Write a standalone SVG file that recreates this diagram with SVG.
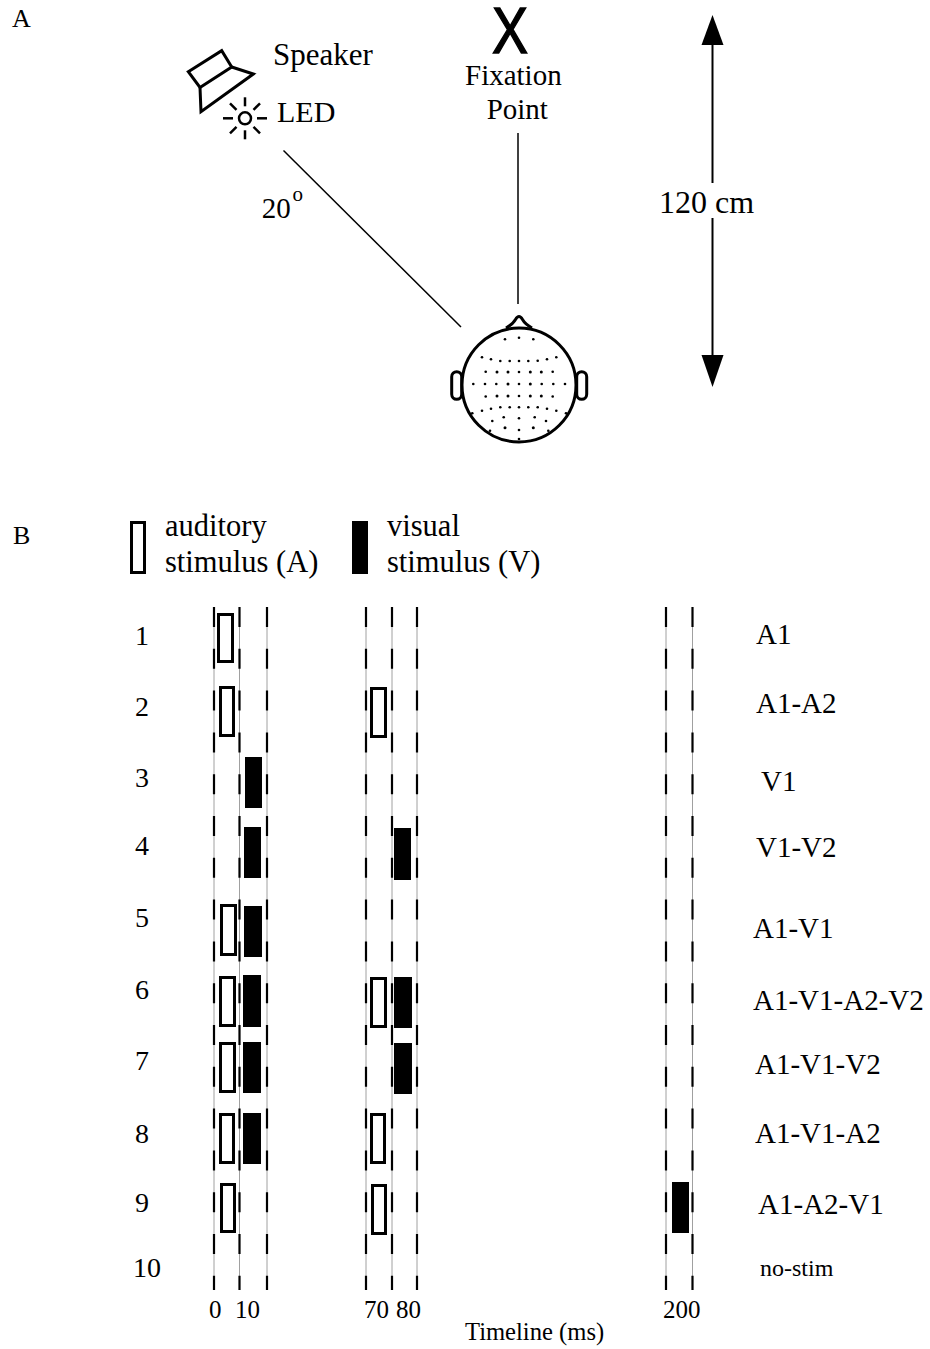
<svg xmlns="http://www.w3.org/2000/svg" width="930" height="1349" viewBox="0 0 930 1349">
  <style>
    .t { font-family: "Liberation Serif", "Times New Roman", serif; fill: #000; }
    .ink { fill: none; stroke: #000; stroke-width: 3; }
    .thin { fill: none; stroke: #000; stroke-width: 1.5; }
    .dot { fill: #000; }
    .aud { fill: #fff; stroke: #000; stroke-width: 3; }
    .vis { fill: #000; }
    .guide { stroke: #a0a0a0; stroke-width: 1; }
    .dash { stroke: #000; stroke-width: 2.2; stroke-dasharray: 20 21.8; }
  </style>

  <rect width="930" height="1349" fill="#fff"/>

  <!-- Panel A: setup -->
  <text class="t" x="12" y="27" font-size="26">A</text>

  <g id="speaker">
    <polygon class="ink" points="188.3,71.7 221.7,50.7 231.7,67 200,87.5"/>
    <polyline class="ink" points="200,87.5 201,111.7 253.3,74 231.7,67"/>
    <text class="t" x="273" y="65" font-size="31">Speaker</text>
  </g>

  <g id="led">
    <circle cx="245" cy="118.3" r="6" fill="none" stroke="#000" stroke-width="2.5"/>
    <g stroke="#000" stroke-width="2.5" stroke-linecap="butt">
      <line x1="233" y1="118.3" x2="223" y2="118.3"/>
      <line x1="257" y1="118.3" x2="267" y2="118.3"/>
      <line x1="245" y1="106.3" x2="245" y2="97.3"/>
      <line x1="245" y1="130.3" x2="245" y2="139.3"/>
      <line x1="236.5" y1="109.8" x2="230" y2="103.3"/>
      <line x1="253.5" y1="109.8" x2="260" y2="103.3"/>
      <line x1="236.5" y1="126.8" x2="230" y2="133.3"/>
      <line x1="253.5" y1="126.8" x2="260" y2="133.3"/>
    </g>
    <text class="t" x="277" y="122" font-size="30">LED</text>
  </g>

  <g id="fixation">
    <text x="492" y="53.3" font-family="Liberation Sans, Arial, sans-serif" font-size="64" stroke="#000" stroke-width="1.4" textLength="36" lengthAdjust="spacingAndGlyphs">X</text>
    <text class="t" x="465" y="85" font-size="29">Fixation</text>
    <text class="t" x="486.7" y="118.5" font-size="29">Point</text>
  </g>

  <g id="angle-label">
    <text class="t" x="261.7" y="218.3" font-size="29">20</text>
    <text class="t" x="292.5" y="201" font-size="21">o</text>
  </g>

  <g id="distance">
    <line x1="712.5" y1="44" x2="712.5" y2="183" stroke="#000" stroke-width="2"/>
    <line x1="712.5" y1="218" x2="712.5" y2="356" stroke="#000" stroke-width="2"/>
    <polygon points="712.5,15 701.5,45 723.5,45" fill="#000"/>
    <polygon points="712.5,387 701.5,355 723.5,355" fill="#000"/>
    <text class="t" x="659" y="213.3" font-size="32">120 cm</text>
  </g>

  <g id="connectors">
    <line class="thin" x1="283.5" y1="150.5" x2="461" y2="327"/>
    <line class="thin" x1="518" y1="133" x2="518" y2="304"/>
  </g>

  <g id="head">
    <rect x="451.7" y="371.7" width="10" height="27.6" rx="5" class="ink" style="fill:#fff"/>
    <rect x="576.7" y="371.7" width="10" height="27.6" rx="5" class="ink" style="fill:#fff"/>
    <path class="ink" d="M506,328 Q513,324 515.5,319.5 Q519,313.5 522.5,319.5 Q525,324 532,328" style="fill:#fff"/>
    <circle cx="519" cy="385" r="57" class="ink" style="fill:#fff"/>
    <g class="dot">
      <circle cx="505" cy="339.3" r="1.3"/><circle cx="519" cy="337.7" r="1.3"/><circle cx="533.3" cy="339.3" r="1.3"/>
      <circle cx="482" cy="357.3" r="1.3"/><circle cx="491" cy="359.3" r="1.3"/><circle cx="500.3" cy="361" r="1.3"/>
      <circle cx="509.7" cy="361" r="1.3"/><circle cx="519" cy="361" r="1.3"/><circle cx="528.3" cy="361" r="1.3"/>
      <circle cx="537.7" cy="360.7" r="1.3"/><circle cx="547" cy="359.3" r="1.3"/><circle cx="556.3" cy="357.3" r="1.3"/>
      <circle cx="485.7" cy="371.7" r="1.3"/><circle cx="497" cy="372" r="1.5"/><circle cx="508" cy="372" r="1.5"/>
      <circle cx="519" cy="372" r="1.3"/><circle cx="530.3" cy="372" r="1.5"/><circle cx="541.3" cy="372" r="1.5"/>
      <circle cx="552.7" cy="371.7" r="1.3"/>
      <circle cx="473.3" cy="384" r="1.3"/><circle cx="485" cy="384" r="1.3"/><circle cx="496.3" cy="384" r="1.3"/>
      <circle cx="508" cy="384" r="1.5"/><circle cx="519" cy="384" r="1.3"/><circle cx="530.3" cy="384" r="1.5"/>
      <circle cx="541.7" cy="384" r="1.3"/><circle cx="553.3" cy="384" r="1.3"/><circle cx="565" cy="384" r="1.3"/>
      <circle cx="485.7" cy="396.5" r="1.3"/><circle cx="497" cy="396" r="1.5"/><circle cx="508" cy="396" r="1.5"/>
      <circle cx="519" cy="396" r="1.3"/><circle cx="530.3" cy="396" r="1.5"/><circle cx="541.3" cy="396" r="1.5"/>
      <circle cx="552.7" cy="396.5" r="1.3"/>
      <circle cx="482" cy="410.7" r="1.3"/><circle cx="491" cy="408.7" r="1.3"/><circle cx="500.3" cy="407.3" r="1.3"/>
      <circle cx="509.7" cy="407.3" r="1.3"/><circle cx="519" cy="407.3" r="1.3"/><circle cx="528.3" cy="407.3" r="1.3"/>
      <circle cx="537.7" cy="407.3" r="1.3"/><circle cx="547" cy="408.7" r="1.3"/><circle cx="556.3" cy="410.7" r="1.3"/>
      <circle cx="472.3" cy="413.3" r="1.3"/><circle cx="566" cy="413.3" r="1.3"/>
      <circle cx="492.3" cy="421" r="1.3"/><circle cx="503.7" cy="417.3" r="1.3"/><circle cx="519" cy="418.3" r="1.3"/>
      <circle cx="534.7" cy="417.3" r="1.3"/><circle cx="546" cy="421" r="1.3"/>
      <circle cx="490" cy="430.7" r="1.3"/><circle cx="505" cy="427.7" r="1.5"/><circle cx="519" cy="430" r="1.3"/>
      <circle cx="533.3" cy="427.7" r="1.5"/><circle cx="548.3" cy="430.7" r="1.3"/>
      <circle cx="519" cy="439" r="1.3"/>
    </g>
  </g>

  <!-- Panel B: stimulus timelines -->
  <text class="t" x="13" y="544" font-size="26">B</text>

  <g id="legend">
    <rect class="aud" x="131.5" y="522.5" width="13" height="50"/>
    <text class="t" x="165" y="536" font-size="30.5">auditory</text>
    <text class="t" x="165" y="572" font-size="30.5">stimulus (A)</text>
    <rect class="vis" x="352" y="521" width="16" height="53"/>
    <text class="t" x="387" y="536" font-size="30.5">visual</text>
    <text class="t" x="387" y="572" font-size="30.5">stimulus (V)</text>
  </g>

  <g id="time-guides">
    <g class="guide">
      <line x1="214" y1="607" x2="214" y2="1290"/>
      <line x1="239.5" y1="607" x2="239.5" y2="1290"/>
      <line x1="267" y1="607" x2="267" y2="1290"/>
      <line x1="366" y1="607" x2="366" y2="1290"/>
      <line x1="392" y1="607" x2="392" y2="1290"/>
      <line x1="417" y1="607" x2="417" y2="1290"/>
      <line x1="666" y1="607" x2="666" y2="1290"/>
      <line x1="692.5" y1="607" x2="692.5" y2="1290"/>
    </g>
    <g class="dash">
      <line x1="214" y1="607" x2="214" y2="1290"/>
      <line x1="239.5" y1="607" x2="239.5" y2="1290"/>
      <line x1="267" y1="607" x2="267" y2="1290"/>
      <line x1="366" y1="607" x2="366" y2="1290"/>
      <line x1="392" y1="607" x2="392" y2="1290"/>
      <line x1="417" y1="607" x2="417" y2="1290"/>
      <line x1="666" y1="607" x2="666" y2="1290"/>
      <line x1="692.5" y1="607" x2="692.5" y2="1290"/>
    </g>
  </g>

  <g id="auditory-stimuli">
    <rect class="aud" x="218.5" y="614.5" width="14" height="47"/>
    <rect class="aud" x="220.5" y="687.5" width="13" height="48"/>
    <rect class="aud" x="221.5" y="905.5" width="14" height="49"/>
    <rect class="aud" x="220.5" y="977.5" width="14" height="48"/>
    <rect class="aud" x="220.5" y="1043.5" width="14" height="48"/>
    <rect class="aud" x="220.5" y="1114.5" width="13" height="48"/>
    <rect class="aud" x="221.5" y="1184.5" width="13" height="47"/>
    <rect class="aud" x="371.5" y="688.5" width="14" height="48"/>
    <rect class="aud" x="371.5" y="978.5" width="14" height="48"/>
    <rect class="aud" x="371.5" y="1114.5" width="13" height="48"/>
    <rect class="aud" x="372.5" y="1185.5" width="13" height="48"/>
  </g>

  <g id="visual-stimuli">
    <rect class="vis" x="245" y="757" width="17" height="51"/>
    <rect class="vis" x="244" y="827" width="17" height="51"/>
    <rect class="vis" x="244" y="906" width="18" height="51"/>
    <rect class="vis" x="243" y="975" width="18" height="52"/>
    <rect class="vis" x="243" y="1042" width="18" height="51"/>
    <rect class="vis" x="243" y="1113" width="18" height="51"/>
    <rect class="vis" x="394" y="828" width="17" height="52"/>
    <rect class="vis" x="394" y="977" width="18" height="51"/>
    <rect class="vis" x="394" y="1043" width="18" height="51"/>
    <rect class="vis" x="672" y="1182" width="17" height="51"/>
  </g>

  <g id="row-numbers" class="t" font-size="28">
    <text x="135" y="645">1</text>
    <text x="135" y="716">2</text>
    <text x="135" y="787">3</text>
    <text x="135" y="855">4</text>
    <text x="135" y="927">5</text>
    <text x="135" y="999">6</text>
    <text x="135" y="1070">7</text>
    <text x="135" y="1143">8</text>
    <text x="135" y="1212">9</text>
    <text x="133" y="1277">10</text>
  </g>

  <g id="condition-labels" class="t" font-size="29">
    <text x="756" y="644">A1</text>
    <text x="756" y="713">A1-A2</text>
    <text x="761" y="791">V1</text>
    <text x="756" y="857">V1-V2</text>
    <text x="753" y="938">A1-V1</text>
    <text x="753" y="1010">A1-V1-A2-V2</text>
    <text x="755" y="1074">A1-V1-V2</text>
    <text x="755" y="1143">A1-V1-A2</text>
    <text x="758" y="1214">A1-A2-V1</text>
    <text x="760" y="1276" font-size="24">no-stim</text>
  </g>

  <g id="time-axis" class="t" font-size="25">
    <text x="209" y="1318">0</text>
    <text x="235" y="1318">10</text>
    <text x="364" y="1318">70</text>
    <text x="396" y="1318">80</text>
    <text x="663" y="1318">200</text>
    <text x="465" y="1340" font-size="24.6">Timeline (ms)</text>
  </g>
</svg>
